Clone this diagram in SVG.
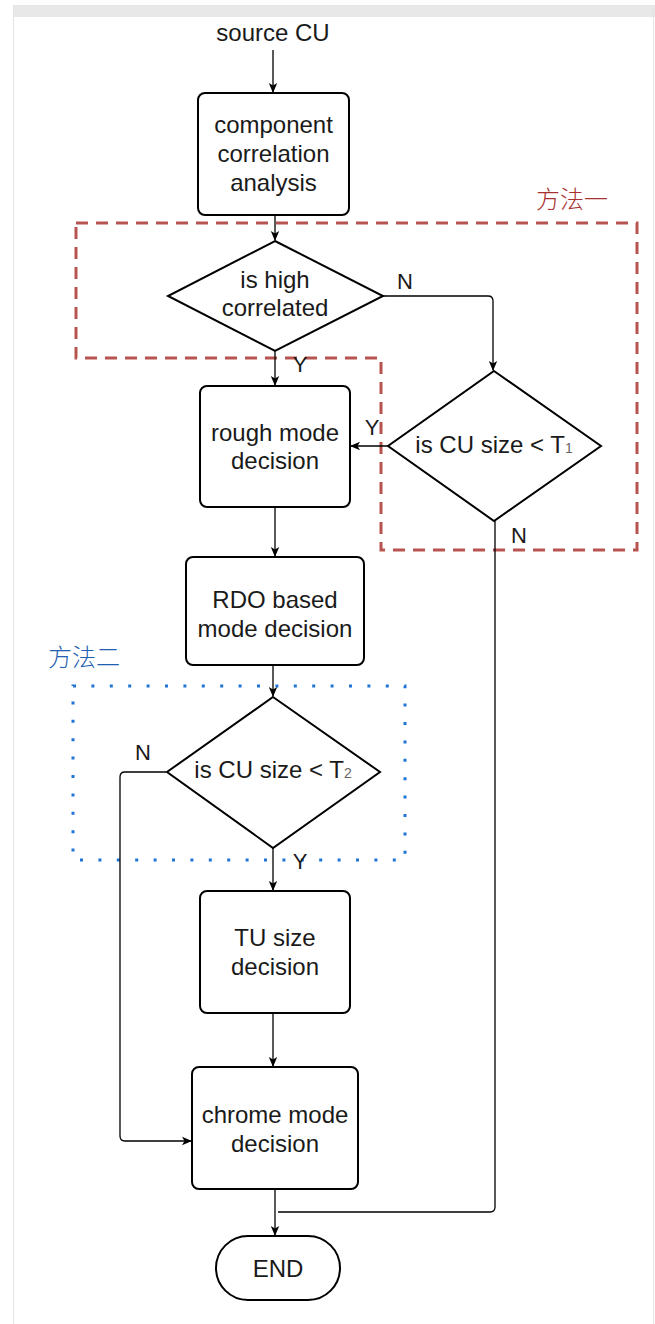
<svg xmlns="http://www.w3.org/2000/svg" width="655" height="1324" viewBox="0 0 655 1324">
  <defs>
    <marker id="arrow" viewBox="0 0 10 10" refX="9" refY="5" markerWidth="10" markerHeight="10" markerUnits="userSpaceOnUse" orient="auto">
      <path d="M0,0.8 L10,5 L0,9.2 L2.5,5 Z" fill="#000"/>
    </marker>
    <style>
      .box { fill: #fff; stroke: #000; stroke-width: 2; }
      .lbl { font-family: "Liberation Sans", Arial, sans-serif; font-size: 24px; fill: #1a1a1a; text-anchor: middle; }
      .yn { font-family: "Liberation Sans", Arial, sans-serif; font-size: 22px; fill: #1a1a1a; text-anchor: middle; }
      .sub { font-size: 14px; fill: #666; }
      .edge { fill: none; stroke: #000; stroke-width: 1.3; }
      .arr { marker-end: url(#arrow); }
      .cjk { font-family: "Noto Sans CJK SC", "Noto Sans CJK JP", sans-serif; font-size: 24px; font-weight: 300; text-anchor: middle; }
    </style>
  </defs>

  <!-- page frame -->
  <rect x="0" y="0" width="655" height="1324" fill="#fff"/>
  <rect x="13" y="5" width="642" height="12" fill="#e8e8e8"/>
  <line x1="13.5" y1="5" x2="13.5" y2="1324" stroke="#e3e3e3" stroke-width="1"/>
  <line x1="653.5" y1="5" x2="653.5" y2="1324" stroke="#e3e3e3" stroke-width="1"/>

  <!-- grouping regions -->
  <g id="group-method1">
    <path d="M76,223 H637 V550 H381 V358 H76 Z" fill="none" stroke="#b85450" stroke-width="3" stroke-dasharray="12 8"/>
    <text class="cjk" x="572" y="208" fill="#a83232">方法一</text>
  </g>
  <g id="group-method2">
    <rect x="73" y="686" width="332" height="174" fill="none" stroke="#1f75d6" stroke-width="3" stroke-dasharray="3 15.4"/>
    <text class="cjk" x="84" y="666" fill="#1f60b0">方法二</text>
  </g>

  <!-- connectors -->
  <g id="connectors">
    <path class="edge arr" d="M273,50 V92"/>
    <path class="edge arr" d="M275,215 V240"/>
    <path class="edge arr" d="M275,351 V385"/>
    <path class="edge arr" d="M383,296 H488 Q493,296 493,301 V370"/>
    <path class="edge arr" d="M388,446 H351"/>
    <path class="edge arr" d="M275,507 V556"/>
    <path class="edge arr" d="M273,665 V696"/>
    <path class="edge arr" d="M273,848 V890"/>
    <path class="edge arr" d="M166,772 H125 Q120,772 120,777 V1136 Q120,1141 125,1141 H191"/>
    <path class="edge arr" d="M273,1013 V1066"/>
    <path class="edge arr" d="M275,1189 V1235"/>
    <path class="edge" d="M495,521 V1207 Q495,1212 490,1212 H278"/>
  </g>

  <!-- connector labels -->
  <g id="edge-labels">
    <text class="yn" x="405" y="289">N</text>
    <text class="yn" x="300" y="372">Y</text>
    <text class="yn" x="372" y="435">Y</text>
    <text class="yn" x="519" y="543">N</text>
    <text class="yn" x="143" y="760">N</text>
    <text class="yn" x="300" y="869">Y</text>
  </g>

  <!-- nodes -->
  <g id="node-source">
    <text class="lbl" x="273" y="41">source CU</text>
  </g>

  <g id="node-correlation">
    <rect class="box" x="198" y="93" width="151" height="122" rx="7"/>
    <text class="lbl" x="273.5" y="133">component</text>
    <text class="lbl" x="273.5" y="162">correlation</text>
    <text class="lbl" x="273.5" y="191">analysis</text>
  </g>

  <g id="node-high-correlated">
    <polygon class="box" points="275,241 383,296 275,351 168,296"/>
    <text class="lbl" x="275" y="288">is high</text>
    <text class="lbl" x="275" y="316">correlated</text>
  </g>

  <g id="node-size-t1">
    <polygon class="box" points="494,371 601,446 494,521 388,446"/>
    <text class="lbl" x="494" y="453">is CU size &lt; T<tspan class="sub">1</tspan></text>
  </g>

  <g id="node-rough">
    <rect class="box" x="200" y="386" width="150" height="121" rx="7"/>
    <text class="lbl" x="275" y="441">rough mode</text>
    <text class="lbl" x="275" y="469">decision</text>
  </g>

  <g id="node-rdo">
    <rect class="box" x="186" y="557" width="178" height="108" rx="7"/>
    <text class="lbl" x="275" y="608">RDO based</text>
    <text class="lbl" x="275" y="637">mode decision</text>
  </g>

  <g id="node-size-t2">
    <polygon class="box" points="273,697 380,772 273,848 167,772"/>
    <text class="lbl" x="273" y="778">is CU size &lt; T<tspan class="sub">2</tspan></text>
  </g>

  <g id="node-tu">
    <rect class="box" x="200" y="891" width="150" height="122" rx="7"/>
    <text class="lbl" x="275" y="946">TU size</text>
    <text class="lbl" x="275" y="975">decision</text>
  </g>

  <g id="node-chrome">
    <rect class="box" x="192" y="1067" width="166" height="122" rx="7"/>
    <text class="lbl" x="275" y="1123">chrome mode</text>
    <text class="lbl" x="275" y="1152">decision</text>
  </g>

  <g id="node-end">
    <rect class="box" x="216" y="1236" width="124" height="64" rx="32"/>
    <text class="lbl" x="278" y="1277">END</text>
  </g>
</svg>
